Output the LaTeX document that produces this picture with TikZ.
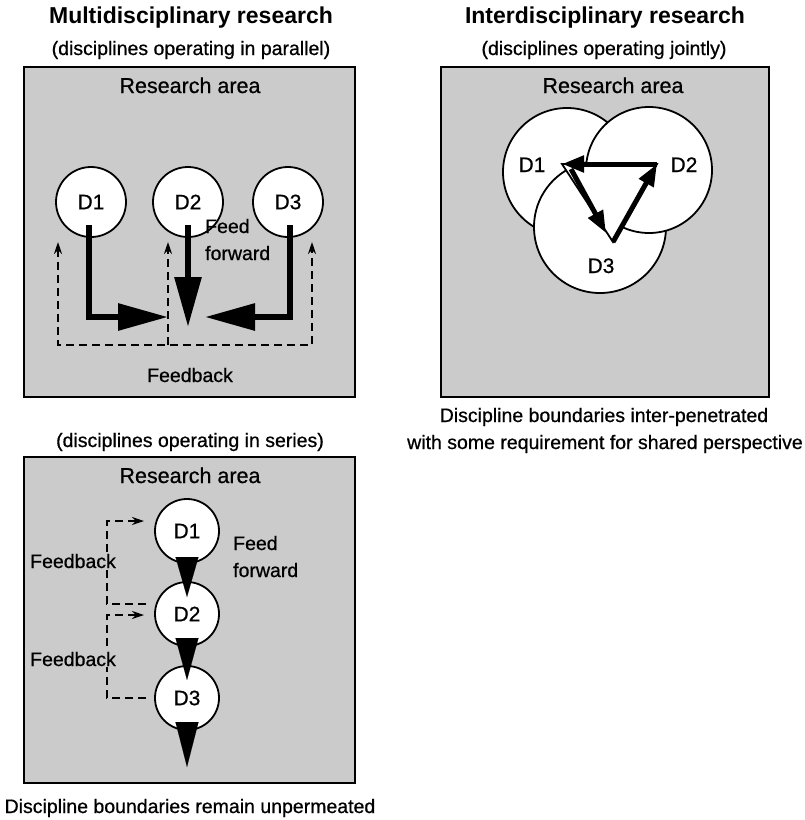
\documentclass[tikz,border=0pt]{standalone}
\usepackage{fontspec}
\setmainfont{Liberation Sans}
\newfontfamily\printfont{Liberation Sans}[FakeBold=0.7]
\usetikzlibrary{arrows.meta,calc}
\definecolor{areagray}{RGB}{203,203,203}
\tikzset{fbtip/.tip={Stealth[length=12pt,width=8pt]}}
\begin{document}
\begin{tikzpicture}[x=1pt,y=-1pt,
  area/.style={draw=black,line width=2pt,fill=areagray},
  heading/.style={font=\bfseries\fontsize{23}{27}\selectfont,anchor=base},
  txt/.style={font=\printfont\fontsize{19.5}{27}\selectfont,anchor=base,inner sep=0pt},
  arealabel/.style={font=\printfont\fontsize{21.5}{24}\selectfont,anchor=base,inner sep=0pt},
  disc/.style={circle,draw=black,line width=1.8pt,fill=white,inner sep=0pt,
    minimum size=70pt,font=\printfont\fontsize{21}{24}\selectfont},
  smalldisc/.style={disc,minimum size=64pt},
  bigdisc/.style={circle,draw=black,line width=1.8pt,fill=white,inner sep=0pt},
  dlabel/.style={font=\printfont\fontsize{21}{24}\selectfont,anchor=base,inner sep=0pt},
  ff/.style={line width=6pt,line join=miter,-{Triangle[length=50pt,width=26pt]}},
  fb/.style={line width=1.8pt,dash pattern=on 8pt off 5pt},
  tri/.style={line width=5pt,-{Triangle[length=22pt,width=16pt]}},
]
\useasboundingbox (0,0) rectangle (805,820);

% ---------- headings ----------
\node[heading] (hmulti) at (191,23) {Multidisciplinary research};
\node[txt] (hpar) at (191,55) {(disciplines operating in parallel)};
\node[heading] (hinter) at (605,23) {Interdisciplinary research};
\node[txt] (hjoint) at (604,55) {(disciplines operating jointly)};

% ---------- parallel panel ----------
\draw[area] (24,67) rectangle (355,397);
\node[arealabel] (ra1) at (190,93) {Research area};
\node[disc] (m1) at (91,202) {D1};
\node[disc] (m2) at (188,202) {D2};
\node[disc] (m3) at (288,202) {D3};

\coordinate (tip1) at (168,317);
\coordinate (tip2) at (188,327);
\coordinate (tip3) at (205,317);
\draw[ff] ($(m1.center)+(-2,23)$) |- (tip1);
\draw[ff] ($(m2.center)+(0,23)$) -- (tip2);
\draw[ff] ($(m3.center)+(2,23)$) |- (tip3);

\coordinate (fbL) at (58,345);
\coordinate (fbM) at (168,345);
\coordinate (fbR) at (312,345);
\coordinate (upL) at (58,242);
\coordinate (upM) at (168,242);
\coordinate (upR) at (312,242);
\draw[fb,{fbtip}-{fbtip}] (upL) -- (fbL) -- (fbR) -- (upR);
\draw[fb,-{fbtip}] (fbM) -- (upM);

\node[txt,align=left,anchor=base west] (ffw1) at (205,260) {Feed\\forward};
\node[txt] (fback1) at (190,382) {Feedback};

% ---------- series panel ----------
\node[txt] (hser) at (190,447) {(disciplines operating in series)};
\draw[area] (24,457) rectangle (355,783);
\node[arealabel] (ra2) at (190,483) {Research area};
\node[smalldisc] (s1) at (187,531) {D1};
\node[smalldisc] (s2) at (187,614) {D2};
\node[smalldisc] (s3) at (187,698) {D3};

\draw[line width=0.1pt,-{Triangle[length=40pt,width=23pt]}]
  ($(s1.center)+(0,26)$) -- ($(s2.center)+(0,-17)$);
\draw[line width=0.1pt,-{Triangle[length=42pt,width=23pt]}]
  ($(s2.center)+(0,24)$) -- ($(s3.center)+(0,-18)$);
\draw[line width=0.1pt,-{Triangle[length=45pt,width=23pt]}]
  ($(s3.center)+(0,24)$) -- ($(s3.center)+(0,69)$);

\coordinate (b1s) at (146,604);
\coordinate (b1e) at (144,521);
\coordinate (b2s) at (146,698);
\coordinate (b2e) at (144,615);
\draw[fb,-{fbtip}] (b1s) -- (107,604) -- (107,521) -- (b1e);
\draw[fb,-{fbtip}] (b2s) -- (107,698) -- (107,615) -- (b2e);

\node[txt,anchor=base west,fill=areagray,inner sep=1pt] (fback2) at (29,568) {Feedback};
\node[txt,anchor=base west,fill=areagray,inner sep=1pt] (fback3) at (29,666) {Feedback};
\node[txt,align=left,anchor=base west] (ffw2) at (233,577) {Feed\\forward};

\node[txt] (hunperm) at (190,813) {Discipline boundaries remain unpermeated};

% ---------- jointly panel ----------
\draw[area] (441,67) rectangle (769,397);
\node[arealabel] (ra3) at (613,93) {Research area};
\node[bigdisc,minimum size=128pt] (j1) at (567,172) {};
\node[bigdisc,minimum size=132pt] (j3) at (600,227) {};
\node[bigdisc,minimum size=126pt] (j2) at (649,170) {};
\node[dlabel] (l1) at (532,172) {D1};
\node[dlabel] (l2) at (684,172) {D2};
\node[dlabel] (l3) at (601,273) {D3};

\coordinate (vA) at (562,164);
\coordinate (vB) at (657,164);
\coordinate (vC) at (613,242);
\draw[line width=1.8pt,line join=miter,fill=white] (vA) -- (vB) -- (vC) -- cycle;
\draw[tri] (vB) -- (vA);
\draw[tri] ($(vA)+(9,5)$) -- ($(vC)+(-7,-9)$);
\draw[tri] (vC) -- (vB);

\node[txt] (hpen1) at (604,422) {Discipline boundaries inter-penetrated};
\node[txt] (hpen2) at (605,449) {with some requirement for shared perspective};
\end{tikzpicture}
\end{document}
